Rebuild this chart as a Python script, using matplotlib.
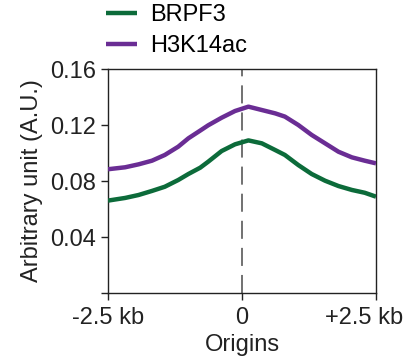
import matplotlib
matplotlib.use("Agg")
import matplotlib.pyplot as plt
import matplotlib.transforms as mtransforms
import numpy as np

plt.rcParams['font.family'] = ['Liberation Sans', 'DejaVu Sans']

# distance from origin (kb)
pos = [-2.5, -2.18, -1.93, -1.68, -1.44, -1.19, -1.00, -0.78, -0.63, -0.38, -0.13,
       0.12, 0.37, 0.62, 0.80, 1.05, 1.30, 1.55, 1.80, 2.05, 2.29, 2.5]

brpf3 = [0.0660, 0.0679, 0.0700, 0.0729, 0.0759, 0.0807, 0.0850, 0.0895, 0.0938, 0.1014, 0.1062,
         0.1090, 0.1069, 0.1021, 0.0986, 0.0914, 0.0850, 0.0802, 0.0764, 0.0736, 0.0716, 0.0688]
h3k14ac = [0.0884, 0.0898, 0.0919, 0.0945, 0.0986, 0.1045, 0.1105, 0.1160, 0.1198, 0.1252, 0.1300,
           0.1331, 0.1307, 0.1283, 0.1260, 0.1200, 0.1129, 0.1069, 0.1009, 0.0969, 0.0945, 0.0926]

xticks = [-2.5, 0, 2.5]
xlabels = ['-2.5 kb', '0', '+2.5 kb']
yticks = [0, 0.04, 0.08, 0.12, 0.16]
ylabels = ['', '0.04', '0.08', '0.12', '0.16']

green = '#0c6b3a'
purple = '#6a2d94'

fig = plt.figure(figsize=(4.14, 3.61), dpi=100)
ax = fig.add_axes([108 / 414, 68 / 361, 268 / 414, 224 / 361])

ax.axvline(0, color='#666666', lw=1.3, dashes=(10, 5), zorder=1)
ax.plot(pos, brpf3, color=green, lw=3.2, label='BRPF3', solid_capstyle='butt', zorder=3)
ax.plot(pos, h3k14ac, color=purple, lw=3.2, label='H3K14ac', solid_capstyle='butt', zorder=3)

ax.set_xlim(-2.5, 2.5)
ax.set_ylim(0, 0.16)
ax.set_xticks(xticks)
ax.set_xticklabels(xlabels)
ax.set_yticks(yticks)
ax.set_yticklabels(ylabels)
ax.tick_params(labelsize=17, length=5, width=1, color='#222222', labelcolor='#222222')
ax.tick_params(axis='x', pad=5)
for s in ax.spines.values():
    s.set_linewidth(1)
    s.set_color('#222222')

# last x label sits a bit left of its tick so it stays inside the figure
lab = ax.get_xticklabels()[-1]
lab.set_transform(lab.get_transform() + mtransforms.ScaledTranslation(-0.12, 0, fig.dpi_scale_trans))

ax.set_ylabel('Arbitrary unit (A.U.)', fontsize=17, color='#222222', labelpad=5)
ax.set_xlabel('Origins', fontsize=17, color='#222222', labelpad=4)

fig.legend(loc='upper left', bbox_to_anchor=(106 / 414, 1 - 4 / 361), frameon=False,
           fontsize=17, handlelength=1.3, handletextpad=0.55, labelspacing=0.39,
           borderpad=0, borderaxespad=0)

fig.savefig('out.png', dpi=100)
